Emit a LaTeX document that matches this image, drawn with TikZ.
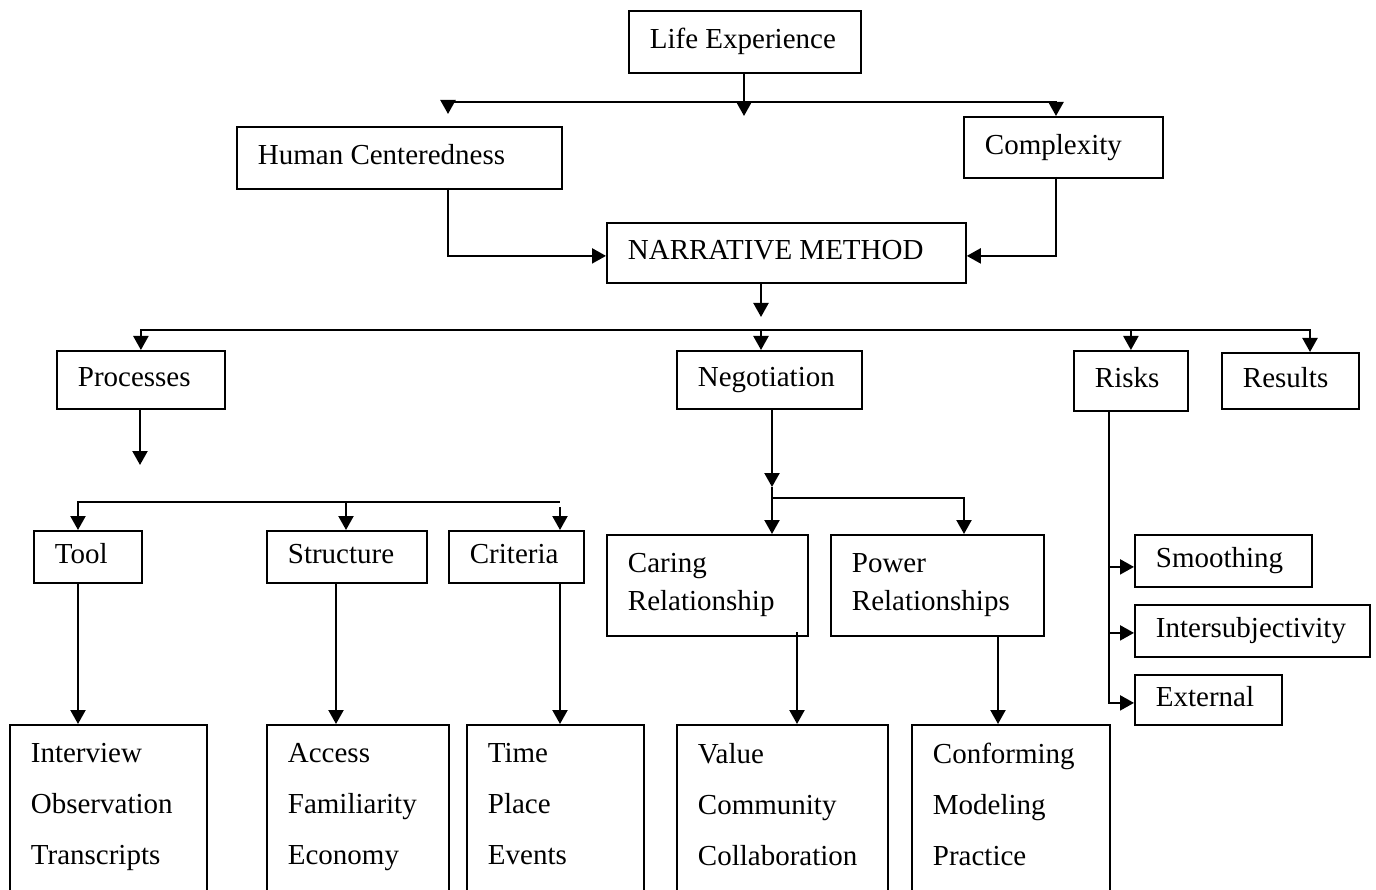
\documentclass[tikz,border=0pt]{standalone}
\usepackage{fontspec}
\setmainfont{Liberation Serif}
\usepackage{tikz}
\usetikzlibrary{arrows.meta}
\hyphenpenalty=10000
\exhyphenpenalty=10000
\tikzstyle{box}=[%
      rectangle, draw=black, line width=1.8pt, anchor=north west, inner xsep=21pt,
      align=flush left, text height=20pt, text depth=6pt
]
\tikzstyle{twobox}=[%
      rectangle, draw=black, line width=1.8pt, anchor=north west, inner xsep=21pt,
      align=flush left, font=\fontsize{29}{38}\selectfont
]
\tikzstyle{listbox}=[%
      rectangle, draw=black, line width=1.8pt, anchor=north west, inner xsep=21pt,
      inner ysep=18.5pt, align=flush left, text depth=200pt, font=\fontsize{29}{51}\selectfont
]
\tikzstyle{wire}=[line width=2.2pt]
\tikzstyle{arr}=[wire, ->]

\begin{document}
\begin{tikzpicture}[x=1pt, y=-1pt,
    >={Triangle[length=14pt,width=15pt]},
    font=\fontsize{29}{34}\selectfont
  ]
    \useasboundingbox (0,0) rectangle (1376,890);

    \node[box, text width=190pt, minimum height=62pt] (life)   at (628,10)   {Life Experience};
    \node[box, text width=283pt, minimum height=62pt] (hc)     at (236,126)  {Human Centeredness};
    \node[box, text width=157pt, minimum height=61pt] (cx)     at (963,116)  {Complexity};
    \node[box, text width=317pt, minimum height=60pt] (nm)     at (606,222)  {NARRATIVE METHOD};
    \node[box, text width=126pt, minimum height=58pt] (proc)   at (56,350)   {Processes};
    \node[box, text width=143pt, minimum height=58pt] (neg)    at (676,350)  {Negotiation};
    \node[box, text width=72pt,  minimum height=60pt] (risks)  at (1073,350) {Risks};
    \node[box, text width=95pt,  minimum height=56pt] (res)    at (1221,352) {Results};
    \node[box, text width=66pt,  minimum height=52pt] (tool)   at (33,530)   {Tool};
    \node[box, text width=118pt, minimum height=52pt] (struct) at (266,530)  {Structure};
    \node[box, text width=93pt,  minimum height=52pt] (crit)   at (448,530)  {Criteria};
    \node[twobox, text width=159pt, minimum height=101pt] (caring) at (606,534) {Caring\\Relationship};
    \node[twobox, text width=171pt, minimum height=101pt] (power)  at (830,534) {Power\\Relationships};
    \node[box, text width=135pt, minimum height=52pt] (smooth) at (1134,534) {Smoothing};
    \node[box, text width=193pt, minimum height=52pt] (inter)  at (1134,604) {Intersubjectivity};
    \node[box, text width=105pt, minimum height=50pt] (ext)    at (1134,674) {External};

    \node[listbox, text width=155pt] (tools)   at (9,724)   {Interview\\Observation\\Transcripts};
    \node[listbox, text width=140pt] (structs) at (266,724) {Access\\Familiarity\\Economy};
    \node[listbox, text width=135pt] (crits)   at (466,724) {Time\\Place\\Events};
    \node[listbox, text width=169pt] (carings) at (676,724) {Value\\Community\\Collaboration};
    \node[listbox, text width=156pt] (powers)  at (911,724) {Conforming\\Modeling\\Practice};

    % junctions and free ends
    \coordinate (lesplit)   at (744,102);
    \coordinate (hctip)     at (448,114);
    \coordinate (letip)     at (744,116);
    \coordinate (hcout)     at (448,188);
    \coordinate (cxout)     at (1056,177);
    \coordinate (nmtip)     at (761,317);
    \coordinate (busmid)    at (761,330);
    \coordinate (busend)    at (1310,330);
    \coordinate (proctip)   at (140,465);
    \coordinate (pbus)      at (346,502);
    \coordinate (pbusend)   at (560,502);
    \coordinate (critin)    at (560,507);
    \coordinate (toolout)   at (78,582);
    \coordinate (structout) at (336,582);
    \coordinate (critout)   at (560,582);
    \coordinate (negout)    at (772,408);
    \coordinate (negtip)    at (772,487);
    \coordinate (negsplit)  at (772,498);
    \coordinate (powerin)   at (964,498);
    \coordinate (caringout) at (797,632);
    \coordinate (powerout)  at (998,635);
    \coordinate (riskout)   at (1109,410);

    \draw[wire] (life.south -| lesplit) -- (lesplit);
    \draw[arr] (lesplit) -| (hctip);
    \draw[arr] (lesplit) -- (letip);
    \draw[arr] (lesplit) -| (cx.north -| cxout);
    \draw[arr] (hcout) |- ([yshift=-3pt]nm.west);
    \draw[arr] (cxout) |- ([yshift=-3pt]nm.east);
    \draw[arr] (nm.south -| nmtip) -- (nmtip);

    \draw[arr] (busmid) -| (proc.north);
    \draw[arr] (busmid) -- (neg.north -| busmid);
    \draw[arr] (busmid) -| (risks.north);
    \draw[arr] (busmid) -| (res.north -| busend);

    \draw[arr] (proc.south -| proctip) -- (proctip);
    \draw[arr] (pbus) -| (tool.north -| toolout);
    \draw[arr] (pbus) -- (struct.north -| pbus);
    \draw[wire] (pbus) -- (pbusend);
    \draw[arr] (critin) -- (crit.north -| critout);
    \draw[arr] (toolout) -- (tools.north -| toolout);
    \draw[arr] (structout) -- (structs.north -| structout);
    \draw[arr] (critout) -- (crits.north -| critout);

    \draw[arr] (negout) -- (negtip);
    \draw[arr] (negtip) -- (caring.north -| negtip);
    \draw[arr] (negsplit) -| (power.north -| powerin);
    \draw[arr] (caringout) -- (carings.north -| caringout);
    \draw[arr] (powerout) -- (powers.north -| powerout);

    \draw[arr] (riskout) |- ([yshift=-6pt]smooth.west);
    \draw[arr] (riskout) |- ([yshift=-2pt]inter.west);
    \draw[arr] (riskout) |- ([yshift=-3pt]ext.west);
\end{tikzpicture}
\end{document}
